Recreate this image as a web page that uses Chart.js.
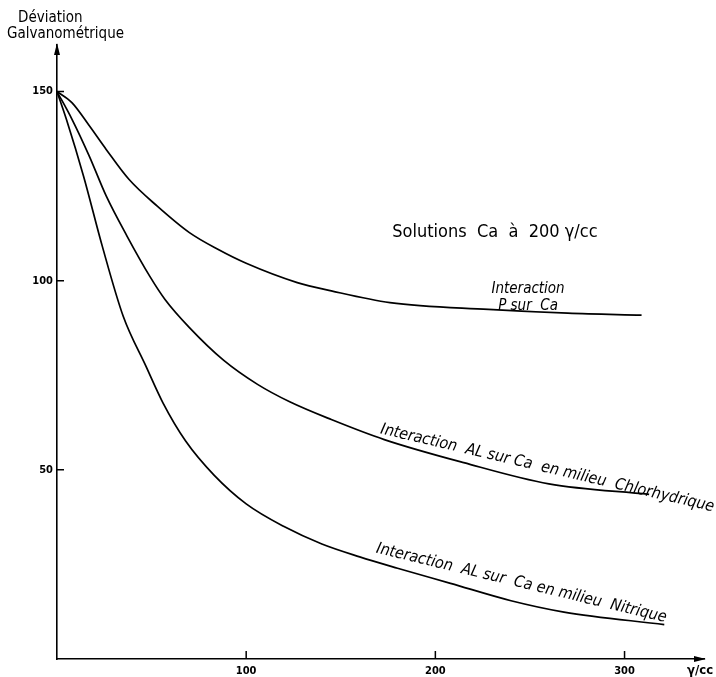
<!DOCTYPE html>
<html>
<head>
<meta charset="utf-8">
<script src="https://cdn.jsdelivr.net/npm/chart.js@4/dist/chart.umd.min.js"></script>
<style>
  body { margin: 0; background: #fff; }
  #wrap { width: 716px; height: 677px; }
</style>
</head>
<body>
<div id="wrap"><canvas id="chart" width="716" height="677"></canvas></div>
<script>
// ===============================
// Données
// ===============================
const xTicks = [100, 200, 300];
const yTicks = [50, 100, 150];

// Interaction P sur Ca
const pX = [0, 8, 17, 26, 38, 53, 70, 85, 100, 127, 145, 176, 228, 270, 309];
const pY = [150, 147, 141, 134.7, 126.8, 119.7, 112.7, 108.3, 104.6, 99.5, 97.3, 94.2, 92.4, 91.4, 90.9];

// Interaction AL sur Ca en milieu Chlorhydrique
const chlX = [0, 8, 17, 26, 37, 49, 57, 70, 88, 106, 123, 145, 173, 215, 260, 313];
const chlY = [150, 142.6, 133, 122.4, 111.8, 101.2, 95.1, 87.6, 79, 72.6, 68, 63.3, 58, 51.9, 46.3, 43.5];

// Interaction AL sur Ca en milieu Nitrique
const nitX = [0, 5, 14, 24, 35, 47, 56, 68, 83, 100, 120, 140, 160, 180, 208, 240, 268, 321];
const nitY = [150, 142.6, 127.7, 109, 90.6, 77.4, 67.7, 57.6, 48.6, 41, 35, 30.4, 27, 24, 20, 15.4, 12.4, 9.1];

const FONT = '"DejaVu Sans Condensed", "Liberation Sans Narrow", sans-serif';

function pts(xs, ys) {
    return xs.map((x, i) => ({ x: x, y: ys[i] }));
}

function serie(label, xs, ys) {
    return {
        label: label,
        data: pts(xs, ys),
        borderColor: "#000",
        borderWidth: 1.7,
        pointRadius: 0,
        fill: false,
        cubicInterpolationMode: "monotone"
    };
}

// ===============================
// Décor : graduations, flèches, textes
// ===============================
const decor = {
    id: "decor",
    afterDraw(chart) {
        const ctx = chart.ctx;
        const xs = chart.scales.x, ys = chart.scales.y;
        const a = chart.chartArea;
        ctx.save();
        ctx.strokeStyle = "#000";
        ctx.fillStyle = "#000";
        ctx.lineWidth = 1.5;

        // graduations vers l'intérieur
        ctx.beginPath();
        yTicks.forEach(v => {
            const y = ys.getPixelForValue(v);
            ctx.moveTo(a.left, y);
            ctx.lineTo(a.left + 7, y);
        });
        xTicks.forEach(v => {
            const x = xs.getPixelForValue(v);
            ctx.moveTo(x, a.bottom);
            ctx.lineTo(x, a.bottom - 8);
        });
        ctx.stroke();

        // flèches
        ctx.beginPath();
        ctx.moveTo(a.left, a.top - 2);
        ctx.lineTo(a.left - 3, a.top + 10);
        ctx.lineTo(a.left + 3, a.top + 10);
        ctx.closePath();
        ctx.moveTo(a.right + 2, a.bottom);
        ctx.lineTo(a.right - 10, a.bottom - 3);
        ctx.lineTo(a.right - 10, a.bottom + 3);
        ctx.closePath();
        ctx.fill();

        // titres des axes
        ctx.textBaseline = "middle";
        ctx.textAlign = "left";
        ctx.font = "15px " + FONT;
        ctx.fillText("Déviation", 18, 18);
        ctx.fillText("Galvanométrique", 7, 34);
        ctx.font = "bold 13px " + FONT;
        ctx.fillText("γ/cc", 687, 671);

        // textes sur le graphique
        ctx.textAlign = "center";
        ctx.font = "18px " + FONT;
        ctx.fillText("Solutions  Ca  à  200 γ/cc", xs.getPixelForValue(231.5), ys.getPixelForValue(112.8));

        ctx.font = "italic 15px " + FONT;
        ctx.fillText("Interaction", xs.getPixelForValue(249), ys.getPixelForValue(97.9));
        ctx.fillText("P sur  Ca", xs.getPixelForValue(249), ys.getPixelForValue(93.4));

        ctx.font = "italic 16px " + FONT;
        const rot = (txt, xv, yv, deg) => {
            ctx.save();
            ctx.translate(xs.getPixelForValue(xv), ys.getPixelForValue(yv));
            ctx.rotate(deg * Math.PI / 180);
            ctx.fillText(txt, 0, 0);
            ctx.restore();
        };
        rot("Interaction  AL sur Ca  en milieu  Chlorhydrique", 259.2, 50.4, 13.2);
        rot("Interaction  AL sur  Ca en milieu  Nitrique", 245.5, 20.0, 13.5);
        ctx.restore();
    }
};

// ===============================
// GRAPHIQUE
// ===============================
new Chart(document.getElementById("chart"), {
    type: "line",
    data: {
        datasets: [
            serie("Interaction P sur Ca", pX, pY),
            serie("Interaction AL sur Ca en milieu Chlorhydrique", chlX, chlY),
            serie("Interaction AL sur Ca en milieu Nitrique", nitX, nitY)
        ]
    },
    options: {
        responsive: false,
        devicePixelRatio: 1,
        animation: false,
        layout: { padding: { left: 0, top: 45, right: 12, bottom: 0 } },
        plugins: {
            legend: { display: false },
            tooltip: { enabled: false }
        },
        scales: {
            x: {
                type: "linear",
                min: 0,
                max: 342,
                grid: { display: false, drawTicks: false },
                border: { display: true, color: "#000", width: 1.6 },
                afterBuildTicks: s => { s.ticks = xTicks.map(v => ({ value: v })); },
                afterFit: s => { s.height = 18; },
                ticks: {
                    color: "#000",
                    padding: 6,
                    maxRotation: 0,
                    font: { family: FONT, size: 11, weight: "bold" }
                }
            },
            y: {
                type: "linear",
                min: 0,
                max: 162.3,
                grid: { display: false, drawTicks: false },
                border: { display: true, color: "#000", width: 1.6 },
                afterBuildTicks: s => { s.ticks = yTicks.map(v => ({ value: v })); },
                afterFit: s => { s.width = 57; },
                ticks: {
                    color: "#000",
                    padding: 4,
                    font: { family: FONT, size: 11, weight: "bold" }
                }
            }
        }
    },
    plugins: [decor]
});
</script>
</body>
</html>
